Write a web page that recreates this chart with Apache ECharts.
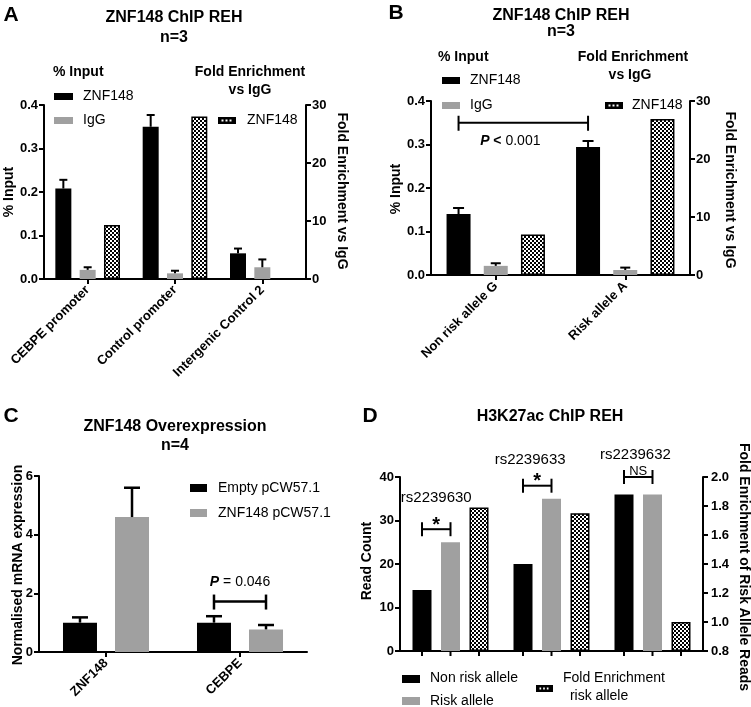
<!DOCTYPE html>
<html><head><meta charset="utf-8">
<script src="https://cdn.jsdelivr.net/npm/echarts@6/dist/echarts.min.js"></script>
<style>html,body{margin:0;padding:0;background:#fff}#c{width:751px;height:707px}</style>
</head><body><div id="c"></div>
<script>
// ================= DATA =================
// Panel A
const catsA = ['CEBPE promoter', 'Control promoter', 'Intergenic Control 2'];
const aZnfInput = [0.208, 0.350, 0.059];
const aZnfInputErr = [0.020, 0.027, 0.011];
const aIgGInput = [0.021, 0.013, 0.027];
const aIgGInputErr = [0.006, 0.006, 0.018];
const aZnfFold = [9.3, 28.0, null];
const axisA_left = [0, 0.4, 0.1];
const axisA_right = [0, 30, 10];

// Panel B
const catsB = ['Non risk allele G', 'Risk allele A'];
const bZnfInput = [0.140, 0.294];
const bZnfInputErr = [0.014, 0.014];
const bIgGInput = [0.021, 0.0115];
const bIgGInputErr = [0.006, 0.0055];
const bZnfFold = [7.0, 26.9];
const axisB_left = [0, 0.4, 0.1];
const axisB_right = [0, 30, 10];
// [cat1, slot1, cat2, slot2, y, label]
const bracketsB = [[0, -1, 1, -1, 0.35, 'P < 0.001']];

// Panel C
const catsC = ['ZNF148', 'CEBPE'];
const cEmpty = [1.0, 1.0];
const cEmptyErr = [0.18, 0.22];
const cZnf = [4.6, 0.77];
const cZnfErr = [1.0, 0.15];
const axisC = [0, 6, 2];
const bracketsC = [[1, -0.5, 1, 0.5, 1.72, 'P = 0.046']];

// Panel D
const catsD = ['rs2239630', 'rs2239633', 'rs2239632'];
const dNonRisk = [14, 20, 36];
const dRisk = [25, 35, 36];
const dFold = [1.79, 1.75, 1.0];
const axisD_left = [0, 40, 10];
const axisD_right = [0.8, 2.0, 0.2];
const bracketsD = [[0, -1, 0, 0, 28, '*'], [1, -1, 1, 0, 38, '*'], [2, -1, 2, 0, 40, 'NS']];
const snpLabelY = [35.3, 44, 45];

// ================= STYLE / HELPERS =================
const F = '"Liberation Sans", Arial, Helvetica, sans-serif';
const GRAY = '#a0a0a0';
const pat = document.createElement('canvas');
pat.width = 4; pat.height = 4;
(function () {
  const g = pat.getContext('2d');
  g.fillStyle = '#fff'; g.fillRect(0, 0, 4, 4);
  g.fillStyle = '#000'; g.fillRect(0, 0, 2, 2); g.fillRect(2, 2, 2, 2);
})();
const CHECK = { color: { image: pat, repeat: 'repeat' }, borderColor: '#000', borderWidth: 1.5 };
const BLACK = { color: '#000' };
const GREY = { color: GRAY };

// bar layouts per panel: width (px), gap (fraction of width)
const LA = { w: 16, gap: 0.52 }, LB = { w: 24, gap: 0.55 }, LC = { w: 34, gap: 0.53 }, LD = { w: 19, gap: 0.5 };
const sp = L => L.w * (1 + L.gap);

function valAxis(gridIndex, pos, r, dec, margin) {
  return {
    type: 'value', gridIndex, position: pos, min: r[0], max: r[1], interval: r[2], startValue: r[0],
    axisLine: { show: true, onZero: false, lineStyle: { color: '#000', width: 2 } },
    axisTick: { show: true, length: 5, lineStyle: { color: '#000', width: 2 } },
    axisLabel: { color: '#000', fontWeight: 'bold', fontSize: 13, fontFamily: F, margin: margin || 6,
      formatter: v => dec ? (+v).toFixed(dec) : String(Math.round(v)) },
    splitLine: { show: false }
  };
}
function catAxis(gridIndex, cats, showLabels, showTicks) {
  return {
    type: 'category', gridIndex, data: cats,
    axisLine: { show: true, onZero: false, lineStyle: { color: '#000', width: 2 } },
    axisTick: { show: showTicks, alignWithLabel: true, interval: 0, length: 5, lineStyle: { color: '#000', width: 2 } },
    axisLabel: { show: showLabels, rotate: 45, interval: 0, color: '#000', fontWeight: 'bold', fontSize: 13, fontFamily: F, margin: 9 },
    splitLine: { show: false }
  };
}
function bars(name, xi, yi, data, style, L) {
  return { type: 'bar', name, xAxisIndex: xi, yAxisIndex: yi, data, barWidth: L.w, barGap: (L.gap * 100) + '%',
    itemStyle: style, clip: true, silent: true };
}
function errBars(xi, yi, vals, errs, slot, L, cap, lw) {
  return {
    type: 'custom', xAxisIndex: xi, yAxisIndex: yi, silent: true, z: 3,
    data: vals.map((v, i) => [i, v, v + errs[i]]),
    renderItem: (p, api) => {
      const a = api.coord([api.value(0), api.value(1)]);
      const b = api.coord([api.value(0), api.value(2)]);
      const x = a[0] + slot * sp(L);
      const st = { stroke: '#000', lineWidth: lw };
      return { type: 'group', children: [
        { type: 'line', shape: { x1: x, y1: a[1], x2: x, y2: b[1] }, style: st },
        { type: 'line', shape: { x1: x - cap / 2, y1: b[1], x2: x + cap / 2, y2: b[1] }, style: st }
      ] };
    }
  };
}
function txtStyle(text, font, extra) {
  return Object.assign({ text, font, fill: '#000', textAlign: 'center', align: 'center',
    textVerticalAlign: 'middle', verticalAlign: 'middle' }, extra || {});
}
const RICH = {
  p: { fontStyle: 'italic', fontWeight: 'bold', fontSize: 14, fontFamily: F },
  b: { fontWeight: 'bold', fontSize: 14, fontFamily: F }
};
function richLabel(t) {
  if (t.indexOf('P <') === 0) return '{p|P} {b|<}' + t.slice(3);
  if (t.indexOf('P =') === 0) return '{p|P} =' + t.slice(3);
  return t;
}
// opts: up/down tick px, text dy, dx
function bracketSeries(xi, yi, list, L, o) {
  return {
    type: 'custom', xAxisIndex: xi, yAxisIndex: yi, silent: true, z: 4, clip: false,
    data: list.map(b => [b[0], b[4]]),
    renderItem: (p, api) => {
      const b = list[p.dataIndex];
      const c1 = api.coord([b[0], b[4]]), c2 = api.coord([b[2], b[4]]);
      const x1 = c1[0] + b[1] * sp(L), x2 = c2[0] + b[3] * sp(L), y = c1[1];
      const st = { stroke: '#000', lineWidth: o.lw || 2 };
      const isSym = b[5] === '*' || b[5] === 'NS';
      const font = b[5] === '*' ? 'bold 20px ' + F : (b[5] === 'NS' ? '13px ' + F : '14px ' + F);
      const dy = b[5] === '*' ? o.starDy : (b[5] === 'NS' ? o.nsDy : o.dy);
      return { type: 'group', children: [
        { type: 'line', shape: { x1, y1: y, x2, y2: y }, style: st },
        { type: 'line', shape: { x1, y1: y - o.up, x2: x1, y2: y + o.down }, style: st },
        { type: 'line', shape: { x1: x2, y1: y - o.up, x2, y2: y + o.down }, style: st },
        { type: 'text', style: txtStyle(richLabel(b[5]), font, { x: (x1 + x2) / 2 + (isSym ? 0 : (o.dx || 0)), y: y + dy, rich: RICH }) }
      ] };
    }
  };
}
function tickSeries(xi, yi, n, slots, L, base) {
  return {
    type: 'custom', xAxisIndex: xi, yAxisIndex: yi, silent: true, clip: false, z: 4,
    data: Array.from({ length: n }, (_, i) => [i, base]),
    renderItem: (p, api) => {
      const c = api.coord([api.value(0), api.value(1)]);
      return { type: 'group', children: slots.map(s => ({ type: 'line',
        shape: { x1: c[0] + s * sp(L), y1: c[1], x2: c[0] + s * sp(L), y2: c[1] + 5 },
        style: { stroke: '#000', lineWidth: 2 } })) };
    }
  };
}
function snpLabels(xi, yi, cats, ys, slots, L) {
  return {
    type: 'custom', xAxisIndex: xi, yAxisIndex: yi, silent: true, clip: false, z: 4,
    data: ys.map((v, i) => [i, v]),
    renderItem: (p, api) => {
      const c = api.coord([api.value(0), api.value(1)]);
      return { type: 'text', style: txtStyle(cats[p.dataIndex], '15px ' + F, { x: c[0] + slots[p.dataIndex] * sp(L), y: c[1] }) };
    }
  };
}

// graphic helpers
function T(x, y, text, font, align, rot) {
  return { type: 'text', x, y, rotation: rot || 0, silent: true,
    style: txtStyle(text, font + ' ' + F, { textAlign: align || 'center', align: align || 'center' }) };
}
function R(x, y, w, h, fill) {
  return { type: 'rect', silent: true, shape: { x, y, width: w, height: h }, style: { fill } };
}
function checkSwatch(x, y, w, h) {
  const els = [R(x, y, w, h, '#000')];
  for (let i = 0; i < 3; i++) els.push(R(x + 3 + i * (w - 6) / 3 + 0.5, y + h / 2 - 1, (w - 6) / 3 - 2, 2, '#fff'));
  return els;
}

const BT = 'bold 16px', LT = '14px', LETTER = 'bold 21px', AX = 'bold 14px';
const graphics = [
  // Panel A
  T(11, 15, 'A', LETTER), T(174, 18, 'ZNF148 ChIP REH', BT), T(174, 38, 'n=3', BT),
  T(53, 72, '% Input', 'bold 14px', 'left'),
  R(54, 93, 19, 7, '#000'), T(83, 96, 'ZNF148', LT, 'left'),
  R(54, 117, 19, 7, GRAY), T(83, 120, 'IgG', LT, 'left'),
  T(250, 72, 'Fold Enrichment', 'bold 14px'), T(250, 90, 'vs IgG', 'bold 14px'),
  ...checkSwatch(218, 117, 18, 7), T(247, 120, 'ZNF148', LT, 'left'),
  T(9, 192, '% Input', AX, 'center', Math.PI / 2),
  T(342, 191, 'Fold Enrichment vs IgG', AX, 'center', -Math.PI / 2),
  // Panel B
  T(396, 13, 'B', LETTER), T(561, 16, 'ZNF148 ChIP REH', BT), T(561, 32, 'n=3', BT),
  T(438, 57, '% Input', 'bold 14px', 'left'),
  R(442, 77, 18, 7, '#000'), T(470, 80, 'ZNF148', LT, 'left'),
  R(442, 102, 18, 7, GRAY), T(470, 105, 'IgG', LT, 'left'),
  T(633, 57, 'Fold Enrichment', 'bold 14px'), T(630, 75, 'vs IgG', 'bold 14px'),
  ...checkSwatch(605, 102, 18, 7), T(632, 105, 'ZNF148', LT, 'left'),
  T(396, 189, '% Input', AX, 'center', Math.PI / 2),
  T(730, 190, 'Fold Enrichment vs IgG', AX, 'center', -Math.PI / 2),
  // Panel C
  T(11, 416, 'C', LETTER), T(175, 427, 'ZNF148 Overexpression', BT), T(175, 446, 'n=4', BT),
  R(190, 484, 17, 8, '#000'), T(218, 488, 'Empty pCW57.1', LT, 'left'),
  R(190, 509, 17, 8, GRAY), T(218, 513, 'ZNF148 pCW57.1', LT, 'left'),
  T(18, 565, 'Normalised mRNA expression', AX, 'center', Math.PI / 2),
  // Panel D
  T(370, 416, 'D', LETTER), T(550, 417, 'H3K27ac ChIP REH', BT),
  R(402, 675, 18, 8, '#000'), T(430, 678, 'Non risk allele', LT, 'left'),
  R(402, 697, 18, 8, GRAY), T(430, 701, 'Risk allele', LT, 'left'),
  ...checkSwatch(536, 685, 17, 7), T(563, 678, 'Fold Enrichment', LT, 'left'), T(566, 696, ' risk allele', LT, 'left'),
  T(367, 561, 'Read Count', AX, 'center', Math.PI / 2),
  T(744, 567, 'Fold Enrichment of Risk Allele Reads', AX, 'center', -Math.PI / 2)
];

const option = {
  animation: false,
  backgroundColor: '#fff',
  grid: [
    { left: 44, top: 105, width: 262, height: 174, containLabel: false, outerBoundsMode: 'none' },
    { left: 431, top: 101, width: 259, height: 174, containLabel: false, outerBoundsMode: 'none' },
    { left: 39, top: 476, width: 268, height: 176, containLabel: false, outerBoundsMode: 'none' },
    { left: 400, top: 477, width: 303, height: 174, containLabel: false, outerBoundsMode: 'none' }
  ],
  xAxis: [
    catAxis(0, catsA, true, true),
    catAxis(1, catsB, true, true),
    catAxis(2, catsC, true, true),
    catAxis(3, catsD, false, false)
  ],
  yAxis: [
    valAxis(0, 'left', axisA_left, 1, 6),
    valAxis(0, 'right', axisA_right, 0, 6),
    valAxis(1, 'left', axisB_left, 1, 6),
    valAxis(1, 'right', axisB_right, 0, 6),
    valAxis(2, 'left', axisC, 0, 6),
    valAxis(3, 'left', axisD_left, 0, 6),
    valAxis(3, 'right', axisD_right, 1, 8)
  ],
  series: [
    // A
    bars('ZNF148 % Input', 0, 0, aZnfInput, BLACK, LA),
    bars('IgG % Input', 0, 0, aIgGInput, GREY, LA),
    bars('ZNF148 Fold', 0, 1, aZnfFold, CHECK, LA),
    errBars(0, 0, aZnfInput, aZnfInputErr, -1, LA, 8, 2),
    errBars(0, 0, aIgGInput, aIgGInputErr, 0, LA, 8, 2),
    // B
    bars('ZNF148 % Input', 1, 2, bZnfInput, BLACK, LB),
    bars('IgG % Input', 1, 2, bIgGInput, GREY, LB),
    bars('ZNF148 Fold', 1, 3, bZnfFold, CHECK, LB),
    errBars(1, 2, bZnfInput, bZnfInputErr, -1, LB, 11, 2),
    errBars(1, 2, bIgGInput, bIgGInputErr, 0, LB, 10, 2),
    bracketSeries(1, 2, bracketsB, LB, { up: 7, down: 8, dy: 18, dx: -13, lw: 2 }),
    // C
    bars('Empty pCW57.1', 2, 4, cEmpty, BLACK, LC),
    bars('ZNF148 pCW57.1', 2, 4, cZnf, GREY, LC),
    errBars(2, 4, cEmpty, cEmptyErr, -0.5, LC, 16, 2.5),
    errBars(2, 4, cZnf, cZnfErr, 0.5, LC, 16, 2.5),
    bracketSeries(2, 4, bracketsC, LC, { up: 7, down: 8, dy: -19, dx: 0, lw: 2.5 }),
    // D
    bars('Non risk allele', 3, 5, dNonRisk, BLACK, LD),
    bars('Risk allele', 3, 5, dRisk, GREY, LD),
    bars('Fold Enrichment risk allele', 3, 6, dFold, CHECK, LD),
    tickSeries(3, 5, catsD.length, [-1, 0, 1], LD, 0),
    bracketSeries(3, 5, bracketsD, LD, { up: 7, down: 7, starDy: -4, nsDy: -6, dy: -10, lw: 2 }),
    snpLabels(3, 5, catsD, snpLabelY, [-0.5, -0.75, -0.6], LD)
  ],
  graphic: graphics
};
const chart = echarts.init(document.getElementById('c'), null, { renderer: 'canvas' });
chart.setOption(option);
</script>
</body></html>
